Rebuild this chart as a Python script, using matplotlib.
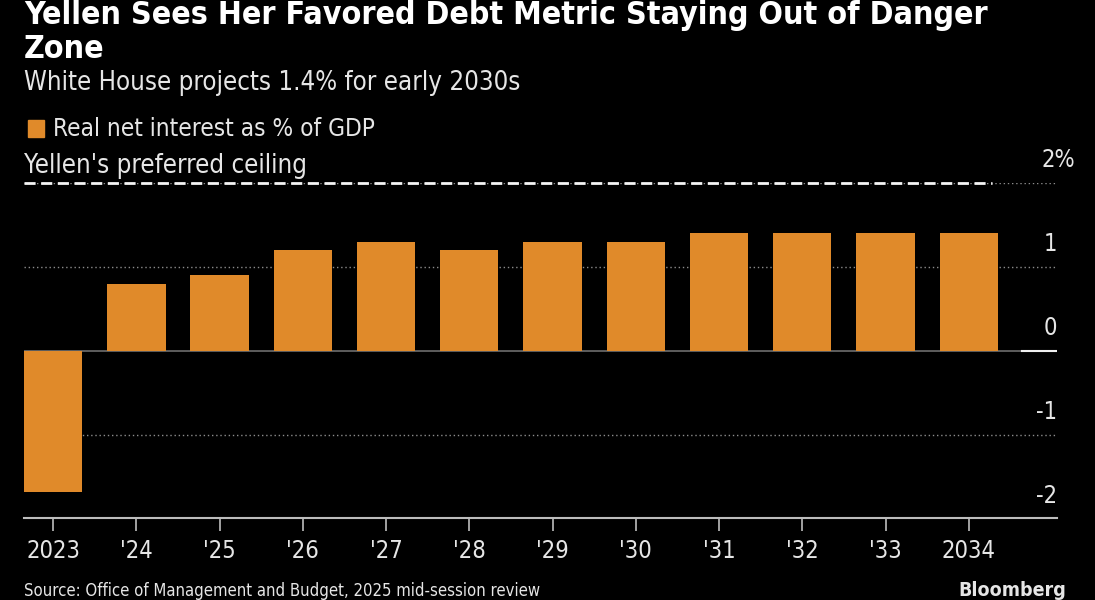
import matplotlib.pyplot as plt
from matplotlib.patches import Rectangle

years = ['2023', "'24", "'25", "'26", "'27", "'28", "'29", "'30", "'31", "'32", "'33", '2034']
real_net_interest = [-1.68, 0.80, 0.90, 1.20, 1.30, 1.20, 1.30, 1.30, 1.40, 1.40, 1.40, 1.40]
ceiling = 2.0
y_ticks = [2, 1, 0, -1, -2]
y_tick_labels = ['2%', '1', '0', '-1', '-2']

plt.rcParams['font.family'] = ['DejaVu Sans']
plt.rcParams['font.stretch'] = 'condensed'

bg = '#000000'
bar_color = '#E08A2A'
txt = '#E6E6E6'
grid_c = '#8C8C8C'

W, H = 1095, 600
fig = plt.figure(figsize=(W / 100, H / 100), dpi=100, facecolor=bg)

def fx(px):
    return px / W

def fy(py):
    return 1 - py / H

ax = fig.add_axes([fx(24), fy(518), fx(1057) - fx(24), fy(183) - fy(518)])
ax.set_facecolor(bg)

x = list(range(len(years)))
ax.bar(x, real_net_interest, width=0.7, color=bar_color, zorder=3)
ax.set_xlim(-0.35, 12.06)
ax.set_ylim(-1.99, 2.0)

# grid lines
for v in [2, 1, -1]:
    ax.axhline(v, color=grid_c, lw=1, ls=(0, (1, 2)), zorder=1)
ax.axhline(0, color='#6E6E6E', lw=1.2, zorder=2)
ax.axhline(0, xmin=0.966, xmax=1, color='#F0F0F0', lw=1.5, zorder=4)

# ceiling line
ax.axhline(ceiling, xmin=0, xmax=0.937, color='#F5F5F5', lw=2, ls=(0, (4, 2)), zorder=4, clip_on=False)

for s in ['top', 'right', 'left']:
    ax.spines[s].set_visible(False)
ax.spines['bottom'].set_color('#BDBDBD')
ax.spines['bottom'].set_linewidth(1.5)
ax.spines['bottom'].set_position(('data', -1.99))

ax.set_xticks(x)
ax.set_xticklabels(years, fontsize=17, color=txt)
ax.tick_params(axis='x', colors='#BDBDBD', length=9, width=1.2, pad=6, labelcolor=txt)
ax.set_yticks([])

# y labels placed above gridlines on the right
for v, lab in zip(y_ticks, y_tick_labels):
    if lab.endswith('%'):
        ax.annotate(lab, xy=(1.0, v), xycoords=('axes fraction', 'data'),
                    xytext=(-11, 8), textcoords='offset points',
                    ha='left', va='bottom', fontsize=17, color=txt)
    else:
        ax.annotate(lab, xy=(1.0, v), xycoords=('axes fraction', 'data'),
                    xytext=(0, 8), textcoords='offset points',
                    ha='right', va='bottom', fontsize=17, color=txt)

# titles
fig.text(fx(24), fy(24), 'Yellen Sees Her Favored Debt Metric Staying Out of Danger',
         fontsize=23, fontweight='bold', color='white', va='baseline')
fig.text(fx(24), fy(58), 'Zone', fontsize=23, fontweight='bold', color='white', va='baseline')
fig.text(fx(24), fy(90), 'White House projects 1.4% for early 2030s',
         fontsize=18.5, color=txt, va='baseline')

# legend
fig.patches.append(Rectangle((fx(28), fy(137)), fx(16), fy(120) - fy(137),
                             transform=fig.transFigure, color=bar_color))
fig.text(fx(53), fy(136), 'Real net interest as % of GDP', fontsize=17.5, color=txt, va='baseline')
fig.text(fx(24), fy(173), "Yellen's preferred ceiling", fontsize=18.5, color=txt, va='baseline')

# footer
fig.text(fx(24), fy(596), 'Source: Office of Management and Budget, 2025 mid-session review',
         fontsize=12, color=txt, va='baseline')
fig.text(fx(1066), fy(596), 'Bloomberg', fontsize=14, fontweight='bold', color=txt,
         va='baseline', ha='right')

fig.savefig('out.png', dpi=100, facecolor=bg)
